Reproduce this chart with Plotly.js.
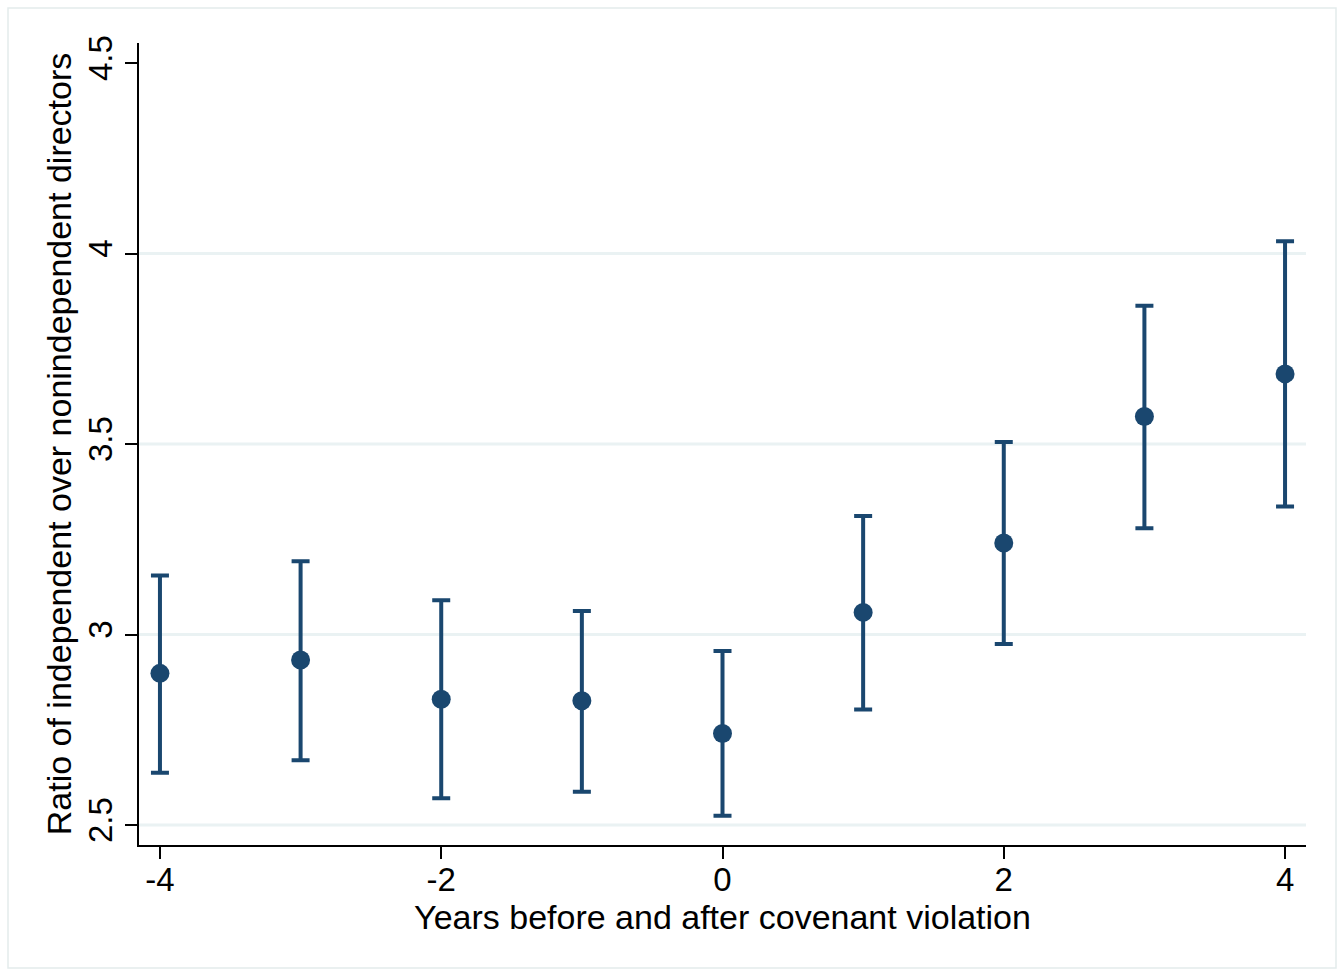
<!DOCTYPE html>
<html>
<head>
<meta charset="utf-8">
<script src="https://cdn.plot.ly/plotly-3.0.1.min.js"></script>
<style>
  html, body { margin: 0; padding: 0; background: #ffffff; }
  #chart { width: 1343px; height: 974px; }
</style>
</head>
<body>
<div id="chart"></div>
<script>
// Data
const years = [-4, -3, -2, -1, 0, 1, 2, 3, 4];
const meanRatio = [2.898, 2.933, 2.830, 2.826, 2.740, 3.058, 3.240, 3.572, 3.684];
const upperCI = [3.155, 3.192, 3.090, 3.062, 2.957, 3.311, 3.505, 3.863, 4.032];
const lowerCI = [2.637, 2.670, 2.570, 2.587, 2.524, 2.803, 2.975, 3.279, 3.336];

const xTickVals = [-4, -2, 0, 2, 4];
const xTickText = ['-4', '-2', '0', '2', '4'];
const yTickVals = [2.5, 3, 3.5, 4, 4.5];
const yTickText = ['2.5', '3', '3.5', '4', '4.5'];
const gridVals = [2.5, 3, 3.5, 4];

const navy = '#1a476f';
const font = 'Liberation Sans, Arial, Helvetica, sans-serif';

const trace = {
  x: years,
  y: meanRatio,
  type: 'scatter',
  mode: 'markers',
  marker: { color: navy, size: 19, line: { width: 0 } },
  error_y: {
    type: 'data',
    symmetric: false,
    array: upperCI.map((u, i) => u - meanRatio[i]),
    arrayminus: lowerCI.map((l, i) => meanRatio[i] - l),
    color: navy,
    thickness: 4,
    width: 9
  },
  showlegend: false,
  hoverinfo: 'x+y'
};

const shapes = gridVals.map(v => ({
  type: 'line', xref: 'paper', yref: 'y',
  x0: 0, x1: 1, y0: v, y1: v,
  line: { color: '#eaf2f3', width: 3 },
  layer: 'below'
}));
// light outer frame of the graph region
shapes.push({
  type: 'rect', xref: 'paper', yref: 'paper',
  x0: (8 - 139) / 1167, x1: (1336 - 139) / 1167,
  y0: -(968 - 845) / 802, y1: 1 + (43 - 8) / 802,
  line: { color: '#e3ecec', width: 1.5 },
  fillcolor: 'rgba(0,0,0,0)',
  layer: 'below'
});

const layout = {
  width: 1343,
  height: 974,
  margin: { l: 139, r: 37, t: 43, b: 129, pad: 0 },
  paper_bgcolor: '#ffffff',
  plot_bgcolor: '#ffffff',
  font: { family: font, size: 33, color: '#000000' },
  xaxis: {
    range: [-4.149, 4.149],
    tickvals: xTickVals,
    ticktext: xTickText,
    ticks: 'outside',
    ticklen: 12,
    tickwidth: 2,
    tickcolor: '#000000',
    ticklabelstandoff: -8,
    showgrid: false,
    zeroline: false,
    showline: true,
    linecolor: '#000000',
    linewidth: 2,
    tickfont: { family: font, size: 33, color: '#000000' },
    title: { text: 'Years before and after covenant violation', font: { family: font, size: 34, color: '#000000' }, standoff: 4 },
    automargin: false
  },
  yaxis: {
    range: [2.4475, 4.5525],
    tickvals: yTickVals,
    ticktext: yTickText,
    tickangle: -90,
    ticks: 'outside',
    ticklen: 12,
    tickwidth: 2,
    tickcolor: '#000000',
    showgrid: false,
    zeroline: false,
    showline: true,
    linecolor: '#000000',
    linewidth: 2,
    tickfont: { family: font, size: 33, color: '#000000' },
    title: { text: 'Ratio of independent over nonindependent directors', font: { family: font, size: 34, color: '#000000' }, standoff: 0 },
    automargin: false
  },
  shapes: shapes
};

Plotly.newPlot('chart', [trace], layout, { displayModeBar: false, staticPlot: true });
</script>
</body>
</html>
